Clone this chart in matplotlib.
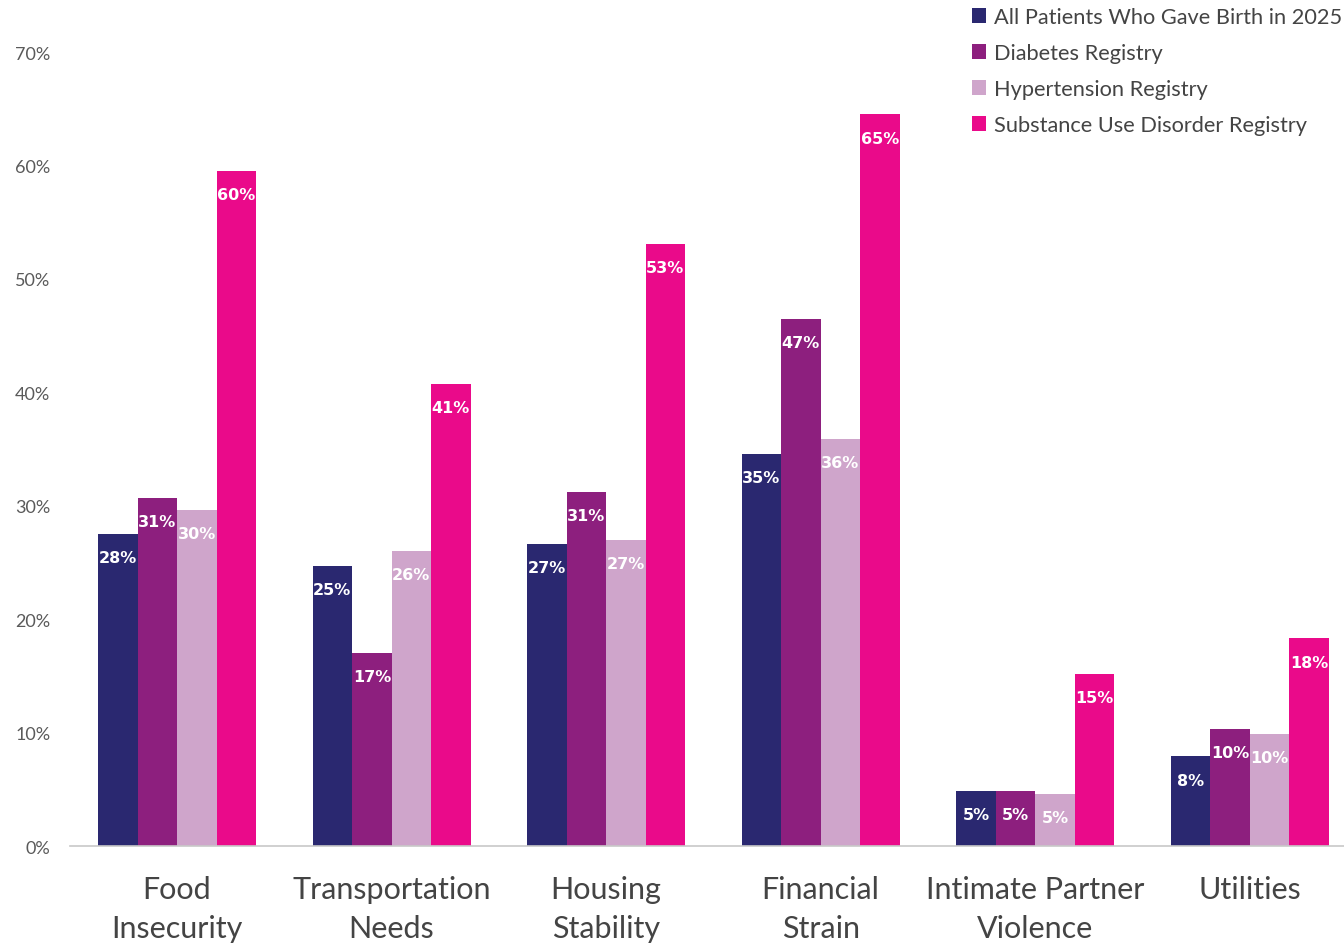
# Social needs screening results by patient group (grouped bar chart)

import numpy as np
import matplotlib.pyplot as plt

categories = ["Food\nInsecurity", "Transportation\nNeeds", "Housing\nStability",
              "Financial\nStrain", "Intimate Partner\nViolence", "Utilities"]

series_names = ["All Patients Who Gave Birth in 2025", "Diabetes Registry",
                "Hypertension Registry", "Substance Use Disorder Registry"]

all_patients = [27.5, 24.7, 26.6, 34.6, 4.85, 7.9]
diabetes = [30.7, 17.0, 31.2, 46.5, 4.85, 10.3]
hypertension = [29.6, 26.0, 27.0, 35.9, 4.6, 9.9]
substance_use = [59.5, 40.7, 53.1, 64.5, 15.2, 18.3]

colors = ["#2a2870", "#8d1f7e", "#cfa5cb", "#ea0a8a"]


def main():
    fig = plt.figure(figsize=(13.44, 9.45), dpi=100)
    ax = fig.add_axes([0.0519, 0.1037, 0.9578, 0.8402])

    x = np.arange(len(categories))
    width = 0.184
    all_series = [all_patients, diabetes, hypertension, substance_use]

    for i, values in enumerate(all_series):
        offset = (i - 1.5) * width
        bars = ax.bar(x + offset, values, width, color=colors[i], label=series_names[i])
        for b, v in zip(bars, values):
            ax.annotate("%d%%" % int(v + 0.5),
                        (b.get_x() + b.get_width() / 2, b.get_height()),
                        xytext=(0, -17), textcoords="offset points",
                        ha="center", va="center", color="white",
                        fontsize=11.5, fontweight="bold", family="DejaVu Sans")

    ax.set_xlim(-0.5, 5.5)
    ax.set_ylim(0, 70)
    ax.set_yticks(range(0, 71, 10))
    ax.set_yticklabels(["%d%%" % t for t in range(0, 71, 10)])
    ax.set_xticks(x)
    ax.set_xticklabels(categories)

    for s in ["top", "right", "left"]:
        ax.spines[s].set_visible(False)
    ax.spines["bottom"].set_color("#c8c8c8")
    ax.spines["bottom"].set_linewidth(1.2)

    ax.tick_params(axis="y", length=0, pad=14, labelsize=13, labelcolor="#5a5a5a")
    ax.tick_params(axis="x", length=0, pad=21, labelsize=22, labelcolor="#444444")
    for lab in ax.get_yticklabels():
        lab.set_family("Lato")
    for lab in ax.get_xticklabels():
        lab.set_family("Lato")
        lab.set_linespacing(1.47)

    leg = ax.legend(loc="upper left", bbox_to_anchor=(0.6855, 1.081), frameon=False,
                    handlelength=0.65, handleheight=0.65, handletextpad=0.35,
                    labelspacing=0.735, prop={"family": "Lato", "size": 15.7})
    for t in leg.get_texts():
        t.set_color("#444444")

    fig.savefig("out.png", dpi=100)


if __name__ == '__main__':
    main()
